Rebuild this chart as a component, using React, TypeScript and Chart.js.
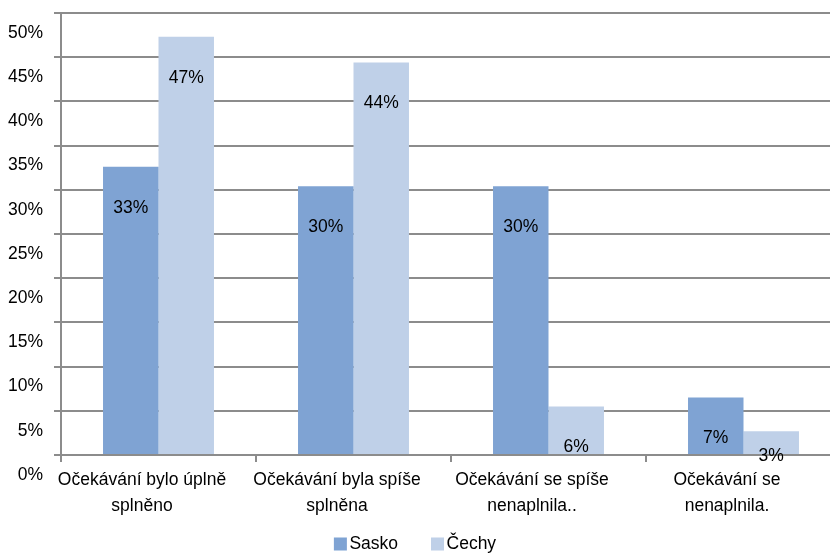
import React, { useEffect, useRef } from 'react';
import { Chart, registerables } from 'chart.js';

Chart.register(...registerables);

// ---- data ----
const categories: string[][] = [
  ['Očekávání bylo úplně', 'splněno'],
  ['Očekávání byla spíše', 'splněna'],
  ['Očekávání se spíše', 'nenaplnila..'],
  ['Očekávání se', 'nenaplnila.'],
];
const seriesNames = ['Sasko', 'Čechy'];
const saskoValues = [32.6, 30.4, 30.4, 6.5];
const cechyValues = [47.3, 44.4, 5.5, 2.7];
const yMin = 0;
const yMax = 50;
const yStep = 5;

// ---- style ----
const COLORS = ['#7FA3D3', '#BFD0E8'];
const GRID = '#8C8C8C';
const TEXT = '#000000';

function pickFont(): { family: string; size: number } {
  const ctx = document.createElement('canvas').getContext('2d')!;
  const sample = 'Očekávání bylo úplně';
  ctx.font = '21px "Liberation Sans Narrow", monospace';
  const a = ctx.measureText(sample).width;
  ctx.font = '21px monospace';
  const b = ctx.measureText(sample).width;
  if (Math.abs(a - b) > 1) {
    return { family: '"Liberation Sans Narrow", "Arial Narrow", sans-serif', size: 21 };
  }
  return { family: '"Liberation Sans", Arial, sans-serif', size: 17.5 };
}

export default function App() {
  const ref = useRef<HTMLCanvasElement>(null);

  useEffect(() => {
    const canvas = ref.current!;
    const f = pickFont();
    const fontStr = `${f.size}px ${f.family}`;

    const valueLabels = {
      id: 'valueLabels',
      afterDatasetsDraw(chart: any) {
        const ctx = chart.ctx;
        ctx.save();
        ctx.font = fontStr;
        ctx.fillStyle = TEXT;
        ctx.textAlign = 'center';
        ctx.textBaseline = 'middle';
        chart.data.datasets.forEach((ds: any, di: number) => {
          chart.getDatasetMeta(di).data.forEach((bar: any, i: number) => {
            const v = ds.data[i].y;
            const y = Math.min(bar.y + 41, chart.chartArea.bottom + 1.5);
            ctx.fillText(Math.round(v) + '%', bar.x, y);
          });
        });
        ctx.restore();
      },
    };

    const customLegend = {
      id: 'customLegend',
      afterDraw(chart: any) {
        const ctx = chart.ctx;
        ctx.save();
        ctx.font = fontStr;
        ctx.textBaseline = 'middle';
        ctx.textAlign = 'left';
        const box = 13;
        const gap = 2.5;
        const itemGap = 33;
        const widths = seriesNames.map((n) => ctx.measureText(n).width);
        const total = widths.reduce((s, w) => s + box + gap + w, 0) + itemGap * (seriesNames.length - 1);
        let x = chart.width / 2 - total / 2;
        const cy = 544;
        seriesNames.forEach((n, i) => {
          ctx.fillStyle = COLORS[i];
          ctx.fillRect(x, cy - box / 2, box, box);
          ctx.fillStyle = TEXT;
          ctx.fillText(n, x + box + gap, cy + 0.5);
          x += box + gap + widths[i] + itemGap;
        });
        ctx.restore();
      },
    };

    const chart = new Chart(canvas, {
      type: 'bar',
      data: {
        datasets: [
          {
            label: seriesNames[0],
            data: saskoValues.map((v, i) => ({ x: i, y: v })),
            backgroundColor: COLORS[0],
            borderWidth: 0,
          },
          {
            label: seriesNames[1],
            data: cechyValues.map((v, i) => ({ x: i, y: v })),
            backgroundColor: COLORS[1],
            borderWidth: 0,
          },
        ],
      },
      options: {
        responsive: false,
        animation: false,
        layout: { padding: { top: 13, left: 0, right: 0, bottom: 0 } },
        datasets: {
          bar: { categoryPercentage: 0.569, barPercentage: 1 },
        },
        plugins: {
          legend: { display: false },
          tooltip: { enabled: false },
        },
        scales: {
          x: {
            type: 'linear',
            offset: false,
            min: -0.5,
            max: -0.5 + 769 / 195,
            afterBuildTicks: (s: any) => {
              s.ticks = categories.map((_, i) => ({ value: i - 0.5 }));
            },
            afterFit: (s: any) => {
              s.height = 100;
              s.paddingLeft = 0;
              s.paddingRight = 0;
            },
            grid: {
              offset: false,
              drawOnChartArea: false,
              drawTicks: true,
              tickLength: 7,
              color: GRID,
              lineWidth: 2,
            },
            border: { display: true, color: GRID, width: 2 },
            ticks: {
              autoSkip: false,
              maxRotation: 0,
              minRotation: 0,
              padding: 5,
              labelOffset: 81,
              color: TEXT,
              font: { family: f.family, size: f.size, lineHeight: 26 / f.size },
              callback: (_v: any, index: number) => categories[index],
            },
          },
          y: {
            min: yMin,
            max: yMax,
            afterFit: (s: any) => {
              s.width = 61;
              s.paddingTop = 0;
              s.paddingBottom = 0;
            },
            grid: {
              drawTicks: true,
              tickLength: 7,
              color: GRID,
              lineWidth: 2,
            },
            border: { display: true, color: GRID, width: 2 },
            ticks: {
              stepSize: yStep,
              padding: 11,
              labelOffset: 20,
              color: TEXT,
              font: { family: f.family, size: f.size },
              callback: (v: any) => v + '%',
            },
          },
        },
      },
      plugins: [valueLabels, customLegend],
    } as any);

    return () => chart.destroy();
  }, []);

  return (
    <div style={{ position: 'fixed', left: 0, top: 0, width: 830, height: 555, background: '#fff' }}>
      <canvas ref={ref} width={830} height={555} style={{ display: 'block', width: 830, height: 555 }} />
    </div>
  );
}
